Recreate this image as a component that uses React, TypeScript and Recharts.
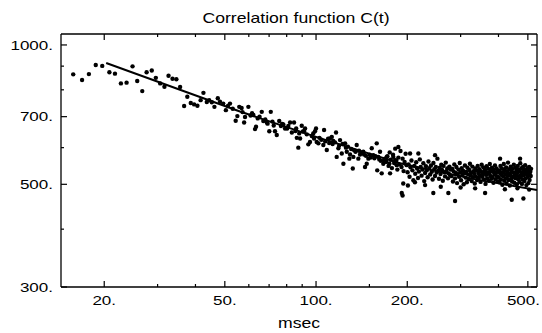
import React from 'react';
import { ScatterChart, Scatter, XAxis, YAxis } from 'recharts';

// early part, t < 56 ms
const earlyT = [
  15.8, 16.9, 17.8, 18.75, 19.7, 20.8, 21.7, 22.7, 23.7, 24.8,
  25.7, 26.7, 27.6, 28.7, 29.6, 30.6, 31.6, 32.6, 33.6, 34.6,
  35.6, 36.7, 37.6, 38.6, 39.6, 40.6, 41.6, 42.5, 43.6, 44.4,
  45.3, 46.2, 47.4, 48.2, 49.4, 50.4, 51.2, 52.0, 53.1, 54.3,
  55.0, 55.8,
];
const earlyC = [
  864, 840, 865, 905, 901, 873, 867, 826, 829, 899,
  836, 795, 873, 881, 849, 826, 812, 858, 845, 843,
  811, 738, 773, 749, 744, 739, 760, 788, 753, 760,
  752, 735, 767, 754, 747, 723, 738, 747, 728, 686,
  702, 735,
];

// middle part, scattered points
const midT = [
  56.8, 57.9, 58.3, 59.8, 62.1, 62.9, 63.4, 66.2, 67.0, 68.8,
  70.1, 70.9, 73.2, 74.2, 75.6, 78.0, 79.0, 82.1, 83.2, 84.6,
  86.4, 87.4, 88.6, 89.7, 91.3, 92.0, 94.3, 95.5, 99.2, 100,
  100.5, 101.8, 105.7, 106.3, 108.5, 111.2, 112.7, 114.0, 116.4, 117.0,
  118.5, 120.0, 121.6, 123.1, 124.7, 126.3, 128.8, 129.5, 132.2, 132.8,
  136.2, 137.9, 139.7, 143.2, 145.1, 147.0, 148.8, 152.7, 154.6, 158.6,
  159.2, 160.6, 162.6, 164.7, 166.7, 168.9, 171.1, 174.6, 175.5, 179.9,
  182.3, 184.6, 186.9,
];
const midC = [
  731, 680, 699, 735, 706, 658, 666, 717, 685, 680,
  651, 717, 651, 639, 685, 673, 660, 680, 647, 680,
  630, 600, 628, 669, 651, 660, 610, 617, 651, 660,
  617, 613, 608, 655, 593, 628, 633, 620, 647, 573,
  598, 623, 583, 554, 613, 588, 568, 580, 541, 573,
  608, 568, 580, 588, 545, 554, 568, 598, 578, 613,
  536, 573, 588, 528, 554, 568, 573, 554, 528, 573,
  564, 550, 602,
];

// middle part, points lying on the fit line
const onLineT = [
  57.2, 60.8, 61.5, 64.2, 65.1, 68.0, 69.2, 71.8, 72.5, 76.6,
  77.3, 80.3, 81.0, 85.5, 86.0, 88.0, 90.5, 93.2, 96.8, 97.9,
  98.5, 102.6, 104.1, 107.2, 109.6, 110.5, 113.4, 115.5, 119.2, 122.3,
  125.5, 127.4, 130.6, 133.6, 135.0, 138.6, 141.5, 144.0, 146.1, 150.3,
  151.5, 155.8, 157.1, 161.7, 163.5, 167.5, 170.0,
];
const onLineC = [
  716, 704, 712, 694, 700, 690, 676, 683, 670, 668,
  675, 660, 668, 652, 660, 644, 650, 641, 636, 644,
  628, 630, 624, 619, 627, 614, 611, 616, 606, 611,
  600, 603, 596, 592, 588, 591, 584, 580, 576, 579,
  571, 569, 575, 566, 562, 563, 559,
];

// dense cloud, t > 170 ms
const lateT = [
  170.5, 172, 173.5, 175, 176.5, 178, 179.5, 181, 182.5, 184,
  185.5, 187, 188.5, 190, 191.5, 193, 194.5, 196, 197.5, 199,
  200.5, 202, 203.5, 205, 206.5, 208, 209.5, 211, 212.5, 214,
  215.5, 217, 218.5, 220, 221.5, 223, 224.5, 226, 227.5, 229,
  230.5, 232, 233.5, 235, 236.5, 238, 239.5, 241, 242.5, 244,
  245.5, 247, 248.5, 250, 251.5, 253, 254.5, 256, 257.5, 259,
  260.5, 262, 263.5, 265, 266.5, 268, 269.5, 271, 272.5, 274,
  275.5, 277, 278.5,
  280, 281.5, 283, 284.5, 286, 287.5, 289, 290.5, 292, 293.5,
  295, 296.5, 298, 299.5, 301, 302.5, 304, 305.5, 307, 308.5,
  310, 311.5, 313, 314.5, 316, 317.5, 319, 320.5, 322, 323.5,
  325, 326.5, 328, 329.5, 331, 332.5, 334, 335.5, 337, 338.5,
  340, 341.5, 343, 344.5, 346, 347.5, 349, 350.5, 352, 353.5,
  355, 356.5, 358, 359.5, 361, 362.5, 364, 365.5, 367, 368.5,
  370, 371.5, 373, 374.5, 376, 377.5, 379, 380.5, 382, 383.5,
  385, 386.5, 388, 389.5, 391, 392.5, 394, 395.5, 397, 398.5,
  400, 401.5, 403, 404.5, 406, 407.5, 409, 410.5, 412, 413.5,
  415, 416.5, 418, 419.5, 421, 422.5, 424, 425.5, 427, 428.5,
  430, 431.5, 433, 434.5, 436, 437.5, 439, 440.5, 442, 443.5,
  445, 446.5, 448, 449.5, 451, 452.5, 454, 455.5, 457, 458.5,
  460, 461.5, 463, 464.5, 466, 467.5, 469, 470.5, 472, 473.5,
  475, 476.5, 478, 479.5, 481, 482.5, 484, 485.5, 487, 488.5,
  490, 491.5, 493, 494.5, 496, 497.5, 499, 500.5, 502, 503.5,
  505, 506.5, 508, 509.5, 511, 512.5,
];
const lateC = [
  560, 575, 548, 586, 565, 542, 579, 556, 597, 563,
  538, 571, 552, 590, 545, 568, 534, 559, 582, 550,
  531, 552, 519, 544, 563, 536, 510, 548, 527, 558,
  541, 516, 533, 566, 545, 522, 538, 555, 508, 529,
  547, 536, 518, 560, 542, 525, 549, 532, 512, 556,
  539, 521, 545, 530, 568, 535, 514, 543, 526, 551,
  537, 509, 548, 531, 520, 557, 534, 541, 515, 528,
  546, 523, 538,
  521, 540, 507, 533, 552, 515, 529, 545, 503, 526,
  538, 519, 556, 531, 510, 542, 524, 535, 500, 528,
  549, 517, 532, 505, 543, 525, 513, 537, 554, 522,
  530, 508, 546, 518, 534, 527, 502, 541, 520, 536,
  511, 548, 529, 516, 539, 523, 506, 533, 551, 519,
  526, 544, 512, 531, 537, 501, 524, 547, 515, 530,
  540, 509, 527, 553, 521, 535, 514, 543, 518, 532,
  504, 538, 525, 549, 512, 529, 541, 520, 534, 507,
  518, 536, 505, 529, 548, 512, 524, 541, 499, 531,
  520, 553, 509, 537, 526, 515, 544, 502, 533, 521,
  557, 511, 528, 539, 497, 523, 546, 514, 532, 507,
  540, 519, 530, 551, 504, 527, 516, 543, 522, 535,
  500, 529, 548, 513, 538, 520, 506, 534, 555, 517,
  525, 542, 501, 530, 512, 546, 523, 537, 508, 528,
  550, 515, 533, 498, 526, 541, 519, 536, 503, 529,
  545, 511, 524, 532, 521, 540,
];

// strays above / below the cloud
const strayT = [
  191.8, 193, 243.8, 273.3, 287.6, 361.3, 442.4, 483.4, 204.3, 217.6,
  247, 404.9, 471.3, 194, 201, 212, 229, 258, 300, 335,
  420, 462, 505,
];
const strayC = [
  479, 473, 479, 479, 460, 479, 463, 466, 583, 583,
  578, 568, 568, 502, 497, 505, 498, 494, 492, 490,
  488, 490, 487,
];

// fitted curve
const fitT = [20.3, 56.1, 103, 189, 322, 536];
const fitC = [914, 718, 629, 555, 515, 486];

const xMajor = [20, 50, 100, 200, 500];
const xMinor = [30, 40, 60, 70, 80, 90, 150, 300, 400];
const yMajor = [300, 500, 700, 1000];
const yMinor = [400, 600, 800, 900];

const zip = (ts: number[], cs: number[]) =>
  ts.slice(0, Math.min(ts.length, cs.length)).map((t, i) => ({ t, c: cs[i] }));

const points = [
  ...zip(earlyT, earlyC),
  ...zip(midT, midC),
  ...zip(onLineT, onLineC),
  ...zip(lateT, lateC),
  ...zip(strayT, strayC),
];
const fit = zip(fitT, fitC);

const FONT = '"Liberation Sans", Arial, Helvetica, sans-serif';
const SX = 1.26; // the original lettering is wide
const FS = 13.5;
const RIGHT_LIMIT = 540;

const makeTick = (side: 'bottom' | 'top' | 'left' | 'right', major: number[]) => (props: any) => {
  const { x, y, payload } = props;
  const isMajor = major.includes(payload.value);
  const len = isMajor ? 6 : 3;
  let line;
  if (side === 'bottom') line = <line x1={x} y1={y} x2={x} y2={y - len} />;
  else if (side === 'top') line = <line x1={x} y1={y} x2={x} y2={y + len} />;
  else if (side === 'left') line = <line x1={x} y1={y} x2={x + len} y2={y} />;
  else line = <line x1={x} y1={y} x2={x - len} y2={y} />;

  let label = null;
  const txt = `${payload.value}.`;
  if (isMajor && side === 'bottom') {
    // rough width so the last label stays inside the picture
    const w = (String(payload.value).length * 0.556 + 0.278) * FS * SX;
    const cx = Math.min(x, RIGHT_LIMIT - w / 2);
    label = (
      <text transform={`translate(${cx},${y + 18}) scale(${SX},1)`} textAnchor="middle"
        fontFamily={FONT} fontSize={FS} fill="#000" stroke="none">{txt}</text>
    );
  }
  if (isMajor && side === 'left') {
    label = (
      <text transform={`translate(${x - 8},${y + 4.8}) scale(${SX},1)`} textAnchor="end"
        fontFamily={FONT} fontSize={FS} fill="#000" stroke="none">{txt}</text>
    );
  }
  return (
    <g stroke="#000" strokeWidth={1.2}>
      {line}
      {label}
    </g>
  );
};

const Dot = (p: any) => <circle cx={p.cx} cy={p.cy} r={2.2} fill="#000" />;
const NoDot = () => <g />;

const axisLine = { stroke: '#000', strokeWidth: 1.3 };
const xDomain = [14.4, 536];
const yDomain = [300, 1056];

export default function App() {
  return (
    <div style={{ position: 'absolute', left: 0, top: 0, width: 542, height: 333, background: '#fff' }}>
      <ScatterChart width={542} height={333} margin={{ top: 33, right: 4, bottom: 0, left: 0 }}>
        <XAxis xAxisId={0} dataKey="t" type="number" scale="log" domain={xDomain} allowDataOverflow
          ticks={[...xMajor, ...xMinor]} interval={0} tickSize={0} tickMargin={0} height={46}
          axisLine={axisLine} tickLine={false} tick={makeTick('bottom', xMajor)} />
        <XAxis xAxisId="top" orientation="top" dataKey="t" type="number" scale="log" domain={xDomain} allowDataOverflow
          ticks={[...xMajor, ...xMinor]} interval={0} tickSize={0} tickMargin={0} height={1}
          axisLine={axisLine} tickLine={false} tick={makeTick('top', xMajor)} />
        <YAxis yAxisId={0} dataKey="c" type="number" scale="log" domain={yDomain} allowDataOverflow
          ticks={[...yMajor, ...yMinor]} interval={0} tickSize={0} tickMargin={0} width={61}
          axisLine={axisLine} tickLine={false} tick={makeTick('left', yMajor)} />
        <YAxis yAxisId="right" orientation="right" dataKey="c" type="number" scale="log" domain={yDomain} allowDataOverflow
          ticks={[...yMajor, ...yMinor]} interval={0} tickSize={0} tickMargin={0} width={1}
          axisLine={axisLine} tickLine={false} tick={makeTick('right', yMajor)} />
        <Scatter xAxisId={0} yAxisId={0} data={points} shape={Dot} isAnimationActive={false} />
        <Scatter xAxisId={0} yAxisId={0} data={fit} shape={NoDot} line={{ stroke: '#000', strokeWidth: 2 }}
          lineType="joint" isAnimationActive={false} />
      </ScatterChart>
      <svg width={542} height={333} style={{ position: 'absolute', left: 0, top: 0, pointerEvents: 'none' }}>
        <text transform={`translate(296,23) scale(${SX},1)`} textAnchor="middle" fontFamily={FONT} fontSize={14} fill="#000">
          Correlation function C(t)
        </text>
        <text transform={`translate(299,328) scale(${SX},1)`} textAnchor="middle" fontFamily={FONT} fontSize={14} fill="#000">
          msec
        </text>
      </svg>
    </div>
  );
}
